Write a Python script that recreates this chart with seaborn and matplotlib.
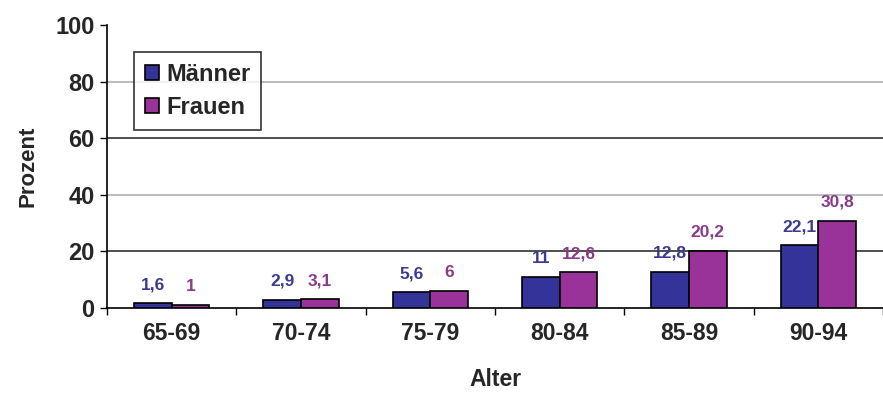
import matplotlib
matplotlib.use("Agg")
import matplotlib.pyplot as plt
import seaborn as sns
import pandas as pd

# Age groups and share (percent) per sex
alter = ["65-69", "70-74", "75-79", "80-84", "85-89", "90-94"]
maenner = [1.6, 2.9, 5.6, 11.0, 12.8, 22.1]
frauen = [1.0, 3.1, 6.0, 12.6, 20.2, 30.8]
y_ticks = [0, 20, 40, 60, 80, 100]

farben = {"Männer": "#333399", "Frauen": "#993399"}
text_farben = {"Männer": "#3b3b8f", "Frauen": "#8a3a8a"}

df = pd.DataFrame({
    "Alter": alter * 2,
    "Geschlecht": ["Männer"] * len(alter) + ["Frauen"] * len(alter),
    "Prozent": maenner + frauen,
})

sns.set_theme(style="white")
plt.rcParams["font.family"] = ["Liberation Sans", "DejaVu Sans"]
plt.rcParams["font.weight"] = "bold"

fig = plt.figure(figsize=(8.83, 3.96), dpi=100)
ax = fig.add_axes([107 / 883, 88 / 396, 1 - 107 / 883, (308 - 25) / 396])

sns.barplot(data=df, x="Alter", y="Prozent", hue="Geschlecht",
            order=alter, hue_order=["Männer", "Frauen"], palette=farben,
            width=0.58, gap=0, edgecolor="black", linewidth=1.2,
            saturation=1, ax=ax, zorder=3)

# horizontal reference lines
line_cols = {20: "#303030", 40: "#b0b0b0", 60: "#303030", 80: "#b0b0b0"}
for yv, c in line_cols.items():
    ax.axhline(yv, color=c, lw=1.2, zorder=1)

# value labels with decimal comma
for cont, name in zip(ax.containers, ["Männer", "Frauen"]):
    labels = [f"{v:g}".replace(".", ",") for v in cont.datavalues]
    ax.bar_label(cont, labels=labels, padding=8, fontsize=12.5,
                 fontweight="bold", color=text_farben[name])

ax.set_ylim(0, 100)
ax.set_xlim(-0.5, 5.5)
ax.set_yticks(y_ticks)
ax.set_yticklabels([str(t) for t in y_ticks], fontsize=17, fontweight="bold")
ax.set_xticks(range(len(alter)))
ax.set_xticklabels(alter, fontsize=16.5, fontweight="bold")
ax.set_xticks([i - 0.5 for i in range(len(alter) + 1)], minor=True)
ax.tick_params(axis="x", which="major", length=0, pad=10)
ax.tick_params(axis="x", which="minor", length=5, width=1, color="black",
               direction="out", bottom=True)
ax.tick_params(axis="y", length=5, width=1, color="black", direction="out",
               left=True, pad=4)

ax.set_xlabel("Alter", fontsize=16.5, fontweight="bold", labelpad=17)
ax.set_ylabel("Prozent", fontsize=16, fontweight="bold", labelpad=12)

for s in ["top", "right"]:
    ax.spines[s].set_visible(False)
for s in ["left", "bottom"]:
    ax.spines[s].set_color("black")
    ax.spines[s].set_linewidth(1.2)

leg = ax.legend(loc="upper left", bbox_to_anchor=(27 / 776, 0.905),
                borderaxespad=0, frameon=True,
                fancybox=False, edgecolor="black", fontsize=17,
                handlelength=0.6, handleheight=0.6, handletextpad=0.3,
                borderpad=0.45, labelspacing=0.45, title=None)
leg.get_frame().set_linewidth(1.2)
leg.set_zorder(5)
for t in leg.get_texts():
    t.set_fontweight("bold")

fig.savefig("out.png", dpi=100)
